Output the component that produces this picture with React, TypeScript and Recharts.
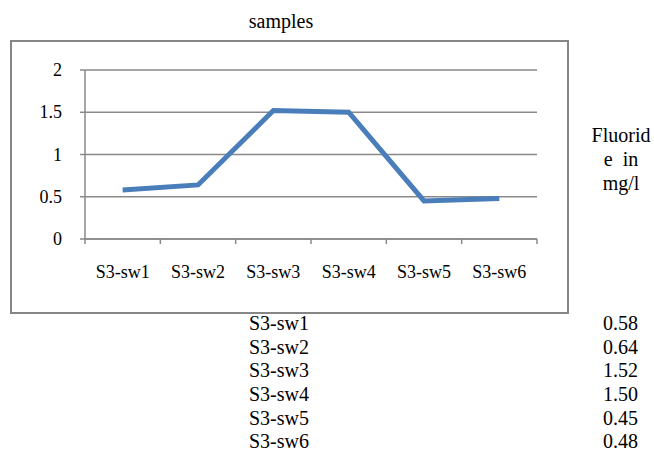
import React from 'react';
import { LineChart, Line, XAxis, YAxis, CartesianGrid } from 'recharts';

const categories = ['S3-sw1', 'S3-sw2', 'S3-sw3', 'S3-sw4', 'S3-sw5', 'S3-sw6'];
const fluoride = [0.58, 0.64, 1.52, 1.5, 0.45, 0.48];
const yTicks = [0, 0.5, 1, 1.5, 2];
const chartTitle = 'samples';
const seriesLabelLines = ['Fluorid', 'e\u00a0\u00a0in', 'mg/l'];

const data = categories.map((name, i) => ({ name, value: fluoride[i] }));

const FONT = "'Liberation Serif', 'Times New Roman', Tinos, FreeSerif, serif";
const GRID = '#898989';

const CatTick = (props: any) => {
  const { x, y, payload, index } = props;
  const off = payload.offset || 0;
  const last = index === categories.length - 1;
  return (
    <g>
      <line x1={x - off} x2={x - off} y1={y} y2={y + 5} stroke={GRID} strokeWidth={1.5} />
      {last && <line x1={x + off} x2={x + off} y1={y} y2={y + 5} stroke={GRID} strokeWidth={1.5} />}
      <text x={x} y={y + 33} textAnchor="middle" dominantBaseline="central" style={{ fontFamily: FONT, fontSize: 18 }} fill="#000">
        {payload.value}
      </text>
    </g>
  );
};

const YTick = (props: any) => {
  const { x, y, payload } = props;
  return (
    <text x={x} y={y} textAnchor="end" dominantBaseline="central" style={{ fontFamily: FONT, fontSize: 18 }} fill="#000">
      {String(payload.value)}
    </text>
  );
};

export default function App() {
  return (
    <div style={{ position: 'absolute', left: 0, top: 0, width: 654, height: 454, background: '#fff' }}>
      <div style={{ position: 'absolute', left: 181, width: 200, top: 9, textAlign: 'center', fontFamily: FONT, fontSize: 20, lineHeight: '24px', color: '#000' }}>{chartTitle}</div>
      <div style={{ position: 'absolute', left: 10, top: 40, width: 555, height: 270, border: '2px solid #868686' }} />
      <div style={{ position: 'absolute', left: 0, top: 0 }}>
        <LineChart width={654} height={454} data={data} margin={{ top: 70, right: 117, bottom: 185, left: 0 }}>
          <CartesianGrid vertical={false} stroke={GRID} strokeWidth={1.5} />
          <XAxis
            dataKey="name"
            scale="band"
            height={30}
            axisLine={{ stroke: GRID, strokeWidth: 1.5 }}
            tickLine={false}
            tickSize={0}
            tickMargin={0}
            interval={0}
            tick={<CatTick />}
          />
          <YAxis
            width={85}
            domain={[0, 2]}
            ticks={yTicks}
            interval={0}
            axisLine={{ stroke: GRID, strokeWidth: 1.5 }}
            tickLine={{ stroke: GRID, strokeWidth: 1.5 }}
            tickSize={5}
            tickMargin={18}
            tick={<YTick />}
          />
          <Line type="linear" dataKey="value" stroke="#4A7EBB" strokeWidth={5} dot={false} isAnimationActive={false} />
        </LineChart>
      </div>
      <div style={{ position: 'absolute', left: 581, width: 80, top: 123, textAlign: 'center', fontFamily: FONT, fontSize: 20, lineHeight: '24px', color: '#000' }}>
        {seriesLabelLines.map((l, i) => (
          <div key={i}>{l}</div>
        ))}
      </div>
      <div style={{ position: 'absolute', left: 249, top: 314, width: 389, fontFamily: FONT, fontSize: 20, lineHeight: '18px', color: '#000' }}>
        {categories.map((c, i) => (
          <div key={c} style={{ display: 'flex', justifyContent: 'space-between', height: 18, marginBottom: i < categories.length - 1 ? 5.7 : 0 }}>
            <span>{c}</span>
            <span>{fluoride[i].toFixed(2)}</span>
          </div>
        ))}
      </div>
    </div>
  );
}
